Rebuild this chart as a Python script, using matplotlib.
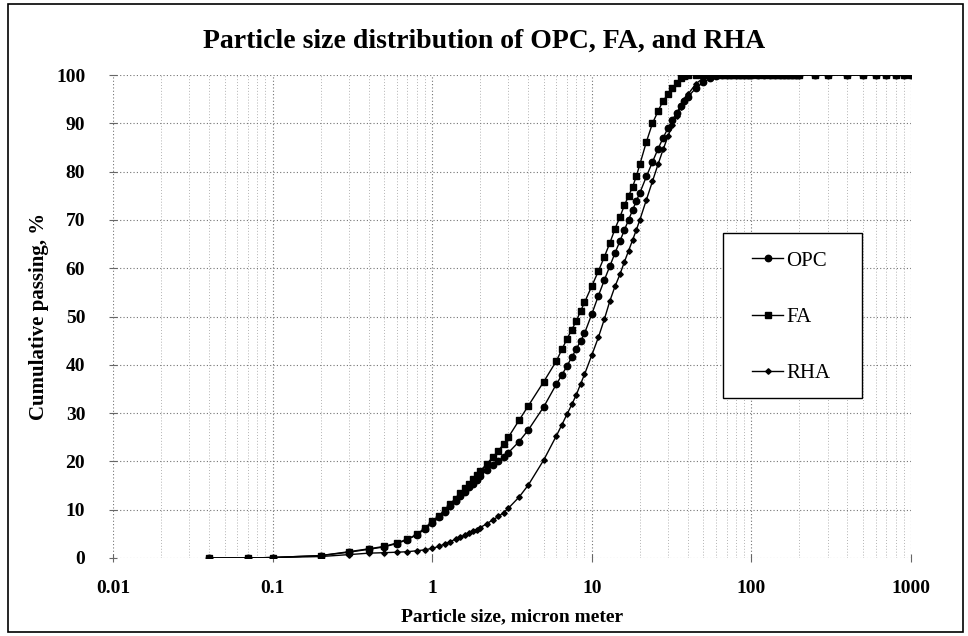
import numpy as np
import matplotlib
matplotlib.use("Agg")
import matplotlib.pyplot as plt
from matplotlib.patches import Rectangle
from matplotlib.ticker import FixedLocator, NullFormatter

plt.rcParams["font.family"] = ["Liberation Serif", "DejaVu Serif"]

# particle size bins, micron
size = [0.04, 0.07, 0.1, 0.2, 0.3, 0.4, 0.5, 0.6, 0.7, 0.8, 0.9,
        1.0, 1.1, 1.2, 1.3, 1.4, 1.5, 1.6, 1.7, 1.8, 1.9, 2.0, 2.2, 2.4,
        2.6, 2.8, 3.0, 3.5, 4.0, 5.0, 6.0, 6.5, 7.0, 7.5, 8.0, 8.5, 9.0,
        10, 11, 12, 13, 14, 15, 16, 17, 18, 19, 20, 22, 24, 26, 28, 30,
        32, 34, 36, 38, 40, 45, 50, 55, 60, 65, 70, 75, 80, 85, 90, 95,
        100, 110, 120, 130, 140, 150, 160, 170, 180, 190, 200, 250, 300,
        400, 500, 600, 700, 800, 900, 1000]

# cumulative passing, %
opc = [0.0, 0.0, 0.1, 0.5, 1.2, 1.8, 2.3, 3.0, 3.8, 4.8, 6.0,
       7.2, 8.4, 9.6, 10.7, 11.8, 12.8, 13.7, 14.6, 15.4, 16.2, 17.0, 18.2, 19.2,
       20.1, 20.9, 21.8, 24.1, 26.5, 31.3, 36.0, 37.9, 39.8, 41.6, 43.3, 44.9, 46.5,
       50.5, 54.3, 57.6, 60.5, 63.2, 65.6, 67.9, 70.0, 72.0, 73.9, 75.6, 79.0, 82.0,
       84.7, 87.0, 89.0, 90.7, 92.2, 93.5, 94.6, 95.5, 97.3, 98.5, 99.3, 99.8, 100,
       100, 100, 100, 100, 100, 100, 100, 100, 100, 100, 100, 100, 100, 100, 100,
       100, 100, 100, 100, 100, 100, 100, 100, 100, 100, 100]

fa = [0.0, 0.0, 0.1, 0.5, 1.3, 1.9, 2.4, 3.1, 3.9, 4.9, 6.2,
      7.6, 8.7, 10.0, 11.2, 12.3, 13.4, 14.5, 15.4, 16.3, 17.2, 18.0, 19.5, 20.9,
      22.2, 23.6, 25.0, 28.5, 31.5, 36.5, 40.8, 43.2, 45.4, 47.3, 49.1, 51.1, 52.9,
      56.3, 59.4, 62.4, 65.3, 68.2, 70.6, 73.0, 75.0, 76.8, 79.0, 81.5, 86.2, 90.0,
      92.5, 94.7, 96.0, 97.3, 98.4, 99.3, 99.8, 100, 100, 100, 100, 100, 100,
      100, 100, 100, 100, 100, 100, 100, 100, 100, 100, 100, 100, 100, 100, 100,
      100, 100, 100, 100, 100, 100, 100, 100, 100, 100, 100]

rha = [0.0, 0.0, 0.1, 0.3, 0.7, 1.0, 1.1, 1.2, 1.3, 1.5, 1.7,
       2.0, 2.4, 2.9, 3.4, 3.9, 4.3, 4.7, 5.1, 5.5, 5.9, 6.3, 7.1, 7.9,
       8.6, 9.4, 10.3, 12.6, 15.1, 20.3, 25.3, 27.6, 29.8, 31.8, 33.8, 36.0, 38.0,
       42.0, 45.7, 49.5, 53.3, 56.3, 58.7, 61.3, 63.6, 65.8, 67.9, 70.0, 74.2, 78.0,
       81.5, 84.6, 87.3, 89.6, 91.6, 93.3, 94.8, 96.0, 98.2, 99.4, 99.9, 100, 100,
       100, 100, 100, 100, 100, 100, 100, 100, 100, 100, 100, 100, 100, 100, 100,
       100, 100, 100, 100, 100, 100, 100, 100, 100, 100, 100]

x_ticks = [0.01, 0.1, 1, 10, 100, 1000]
x_tick_labels = ["0.01", "0.1", "1", "10", "100", "1000"]
y_ticks = list(range(0, 101, 10))

fig = plt.figure(figsize=(9.68, 6.36), dpi=100)
ax = fig.add_axes([113 / 968, 1 - 558 / 636, (911 - 113) / 968, (558 - 75) / 636])

ax.plot(size, opc, color="black", lw=1.0, marker="o", ms=4.6, label="OPC")
ax.plot(size, fa, color="black", lw=1.0, marker="s", ms=4.2, label="FA")
ax.plot(size, rha, color="black", lw=1.0, marker="D", ms=2.8, label="RHA")

ax.set_xscale("log")
ax.set_xlim(0.01, 1000)
ax.set_ylim(0, 100)
ax.set_xticks(x_ticks)
ax.set_xticklabels(x_tick_labels)
minors = [m * 10.0 ** e for e in range(-2, 3) for m in range(2, 10)]
ax.xaxis.set_minor_locator(FixedLocator(minors))
ax.xaxis.set_minor_formatter(NullFormatter())
ax.set_yticks(y_ticks)

for s in ax.spines.values():
    s.set_visible(False)

ax.grid(True, which="major", axis="both", color="0.45", ls=(0, (1, 2)), lw=0.8)
ax.grid(True, which="minor", axis="x", color="0.7", ls=(0, (1, 2)), lw=0.7)
ax.tick_params(axis="both", which="major", direction="inout", length=6,
               color="0.4", labelsize=14)
ax.tick_params(axis="x", which="major", pad=13)
ax.tick_params(axis="y", which="major", pad=17)
ax.tick_params(axis="x", which="minor", length=0)
for lab in ax.get_xticklabels() + ax.get_yticklabels():
    lab.set_fontweight("bold")

ax.set_xlabel("Particle size, micron meter", fontsize=14, fontweight="bold", labelpad=8)
ax.set_ylabel("Cumulative passing, %", fontsize=15, fontweight="bold", labelpad=5)
fig.text(0.5, 1 - 41 / 636, "Particle size distribution of OPC, FA, and RHA",
         ha="center", va="center", fontsize=20, fontweight="bold")

# legend box drawn separately (white, covers grid), entries on top of it
box = Rectangle((723 / 968, 1 - 398 / 636), 139 / 968, 165 / 636,
                transform=fig.transFigure, facecolor="white",
                edgecolor="black", lw=1.0, zorder=4, clip_on=False)
ax.add_artist(box)
leg = ax.legend(loc="center left", bbox_to_anchor=(752 / 968, 1 - 317 / 636),
                bbox_transform=fig.transFigure, frameon=False, fontsize=15,
                labelspacing=1.75, handlelength=1.5, handletextpad=0.15,
                borderpad=0, borderaxespad=0)
leg.set_zorder(5)

fig.patches.append(Rectangle((8 / 968, 4 / 636), 955 / 968, 628 / 636,
                             transform=fig.transFigure, fill=False,
                             edgecolor="black", lw=1.2))

fig.savefig("out.png", dpi=100)
